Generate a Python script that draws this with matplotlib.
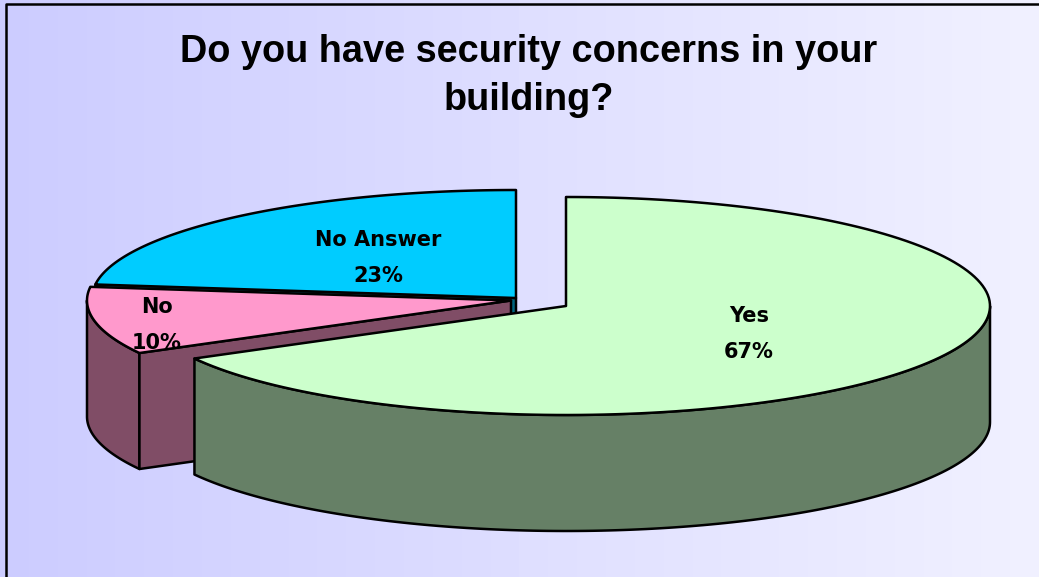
import matplotlib
matplotlib.use('Agg')
import matplotlib.pyplot as plt
from matplotlib.patches import Polygon
import numpy as np

title = "Do you have security concerns in your\nbuilding?"
labels = ['Yes', 'No', 'No Answer']
shares = [67, 10, 23]
top_colors = ['#CCFFCC', '#FF99CC', '#00CCFF']
side_colors = ['#668066', '#804D66', '#006680']

# slice centres, pulled apart from each other
centers = [(566, 306), (511, 300.5), (516, 298)]
radii = [(424, 109), (424, 109), (424, 108)]
label_pos = [(749, 334), (157, 325), (378, 258)]
depth = 116
lw = 1.8


def rim(i, a0, a1, drop=0):
    # angles go clockwise from 12 o'clock
    t = np.radians(np.linspace(a0, a1, 150))
    cx, cy = centers[i]
    rx, ry = radii[i]
    return np.column_stack([cx + rx*np.sin(t), cy - ry*np.cos(t) + drop])


def wall(i, pts):
    ax.add_patch(Polygon(pts, closed=True, fc=side_colors[i], ec='k', lw=lw, joinstyle='round'))


def extrude(i, a0, a1):
    wall(i, np.vstack([rim(i, a0, a1), rim(i, a0, a1, depth)[::-1]]))


def radial_face(i, a):
    p = rim(i, a, a)[0]
    cx, cy = centers[i]
    wall(i, [p, (cx, cy), (cx, cy+depth), (p[0], p[1]+depth)])


def top(i, a0, a1):
    pts = np.vstack([[centers[i]], rim(i, a0, a1)])
    ax.add_patch(Polygon(pts, closed=True, fc=top_colors[i], ec='k', lw=lw, joinstyle='round'))


fig = plt.figure(figsize=(10.39, 5.77), dpi=100)
ax = fig.add_axes([0, 0, 1, 1])

# background fade, left to right
fade = np.linspace(0, 1, 36)[None, :, None]
bg = (1-fade)*np.array([0.8, 0.8, 1.0]) + fade*np.array([0.945, 0.945, 1.0])
ax.imshow(bg, extent=[0, 1039, 577, 0], aspect='auto', interpolation='nearest')
ax.plot([5.5, 5.5, 1039], [577, 3.5, 3.5], color='k', lw=1.8)

ends = np.cumsum(shares)*3.6
yes_end, no_end = ends[0], ends[1]

# back to front: no answer, no, yes
radial_face(2, no_end)
top(2, no_end, 360)

extrude(1, yes_end, 270)
radial_face(1, yes_end)
top(1, yes_end, no_end)

extrude(0, 90, yes_end)
top(0, 0, yes_end)

for i in range(3):
    x, y = label_pos[i]
    ax.text(x, y, labels[i]+'\n'+str(shares[i])+'%', ha='center', va='center',
            fontsize=15, fontweight='bold', family='DejaVu Sans', color='k', linespacing=2.0)

ax.text(529, 76, title, ha='center', va='center', fontsize=27.3, fontweight='bold',
        family='Liberation Sans', color='k', linespacing=1.4)

ax.set_xlim(0, 1039)
ax.set_ylim(577, 0)
ax.axis('off')
fig.savefig('out.png', dpi=100)
